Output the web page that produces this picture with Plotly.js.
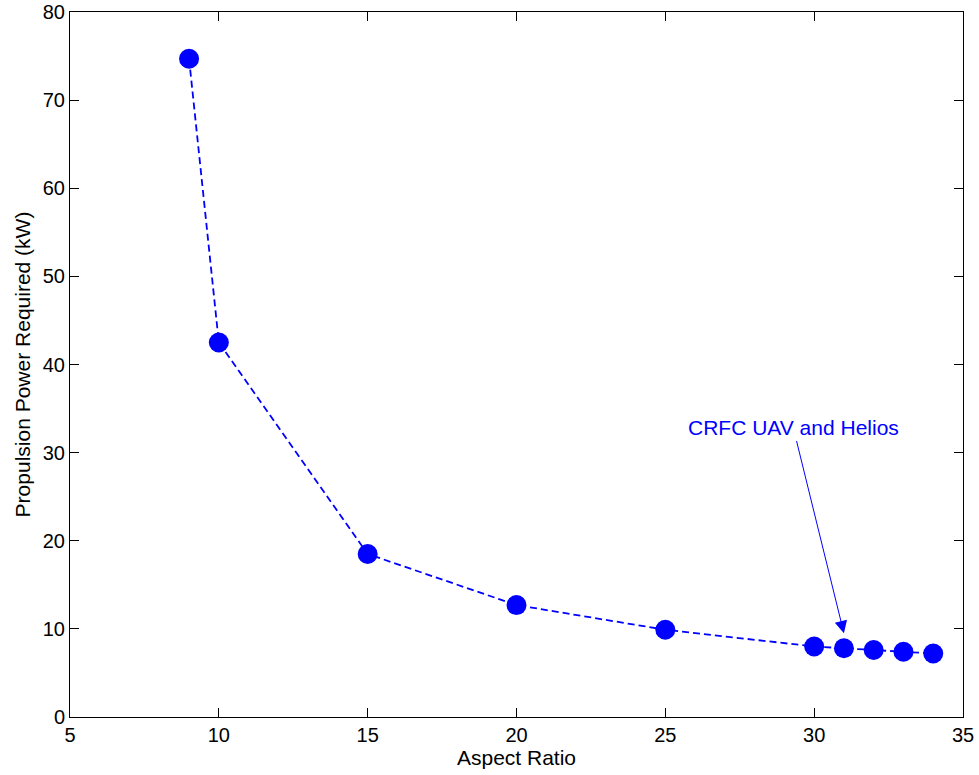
<!DOCTYPE html>
<html><head><meta charset="utf-8">
<script src="https://cdn.plot.ly/plotly-3.0.1.min.js"></script>
<style>body{margin:0;background:#fff}#plot{width:979px;height:775px}</style>
</head><body><div id="plot"></div>
<script>
const aspectRatio = [9, 10, 15, 20, 25, 30, 31, 32, 33, 34];
const powerKW = [74.7, 42.5, 18.5, 12.7, 9.9, 8.0, 7.8, 7.6, 7.4, 7.2];
const annotText = "CRFC UAV and Helios";
const xTicks = [5, 10, 15, 20, 25, 30, 35];
const yTicks = [0, 10, 20, 30, 40, 50, 60, 70, 80];

const FONT = 'Liberation Sans, Arial, sans-serif';
const axisCommon = {
  showgrid: false, zeroline: false, showline: true, linecolor: '#000', linewidth: 1,
  mirror: 'ticks', ticks: 'inside', ticklen: 9, tickcolor: '#000',
  tickfont: {family: FONT, size: 20, color: '#000'}
};

Plotly.newPlot('plot', [{
  x: aspectRatio, y: powerKW, type: 'scatter', mode: 'lines+markers',
  line: {color: '#0000ff', width: 1.8, dash: '7px,4px'},
  marker: {color: '#0000ff', size: 20}
}], {
  width: 979, height: 775,
  margin: {l: 70, r: 16, t: 12, b: 58},
  paper_bgcolor: '#fff', plot_bgcolor: '#fff',
  showlegend: false,
  xaxis: Object.assign({}, axisCommon, {
    range: [5, 35], tickvals: xTicks,
    title: {text: 'Aspect Ratio', standoff: 4, font: {family: FONT, size: 21, color: '#000'}}
  }),
  yaxis: Object.assign({}, axisCommon, {
    range: [0, 80], tickvals: yTicks,
    title: {text: 'Propulsion Power Required (kW)', standoff: 6, font: {family: FONT, size: 21, color: '#000'}}
  }),
  annotations: [{
    x: 31, y: 9.5, xref: 'x', yref: 'y',
    ax: 29.3, ay: 32.8, axref: 'x', ayref: 'y',
    text: annotText, showarrow: true, arrowhead: 2, arrowsize: 2.5, arrowwidth: 1,
    arrowcolor: '#0000ff',
    font: {family: FONT, size: 21, color: '#0000ff'}
  }]
}, {displayModeBar: false});
</script></body></html>
